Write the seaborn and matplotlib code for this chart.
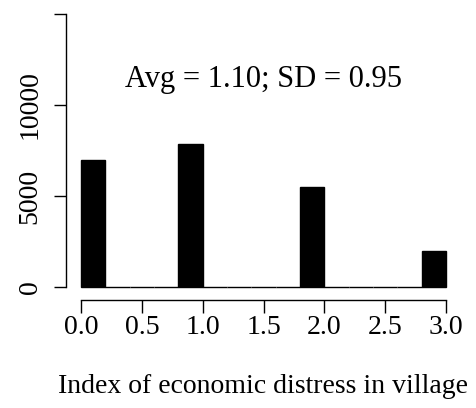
import numpy as np
import pandas as pd
import matplotlib
matplotlib.use("Agg")
import matplotlib.pyplot as plt
import seaborn as sns

# Data
index_values = [0, 1, 2, 3]
counts = [7000, 7870, 5490, 1980]
x_ticks = [0.0, 0.5, 1.0, 1.5, 2.0, 2.5, 3.0]
x_tick_labels = ["0.0", "0.5", "1.0", "1.5", "2.0", "2.5", "3.0"]
y_ticks = [0, 5000, 10000, 15000]
y_tick_labels = ["0", "5000", "10000", ""]
annotation = "Avg = 1.10; SD = 0.95"
x_label = "Index of economic distress in village"

sns.set_theme(style="white")
plt.rcParams["font.family"] = ["Liberation Serif", "DejaVu Serif"]
plt.rcParams["text.color"] = "black"
plt.rcParams["axes.labelcolor"] = "black"
plt.rcParams["xtick.color"] = "black"
plt.rcParams["ytick.color"] = "black"
FS = 20
FS_ANN = 22

edges = np.linspace(0, 3, 16)
binned = pd.cut(pd.Series(index_values, dtype=float), edges, right=True, include_lowest=True)
mids = [float(iv.mid) for iv in binned]
df = pd.DataFrame({"x": mids, "w": counts})

fig = plt.figure(figsize=(4.76, 4.08), dpi=100)
ax = fig.add_axes([66.4 / 476, 108 / 408, (460.6 - 66.4) / 476, (405 - 108) / 408])
sns.histplot(data=df, x="x", weights="w", bins=list(edges), color="black",
             edgecolor="black", linewidth=1.0, alpha=1, ax=ax)

ax.set_xlim(-0.12, 3.12)
ax.set_ylim(-700, 15600)
for s in ["top", "right"]:
    ax.spines[s].set_visible(False)
ax.spines["left"].set_bounds(0, 15000)
ax.spines["bottom"].set_bounds(0, 3)
for s in ["left", "bottom"]:
    ax.spines[s].set_color("black")
    ax.spines[s].set_linewidth(1.0)

ax.set_xticks(x_ticks)
ax.set_xticklabels(x_tick_labels, fontsize=FS, color="black")
ax.set_yticks(y_ticks)
ax.set_yticklabels(y_tick_labels, fontsize=FS, rotation=90, va="center", color="black")
ax.tick_params(axis="both", direction="out", length=9, width=1.0, colors="black",
               left=True, bottom=True)
ax.tick_params(axis="x", pad=2)
ax.tick_params(axis="y", pad=8)
ax.set_xlabel(x_label, fontsize=FS, labelpad=24.5, color="black")
ax.set_ylabel("")
ax.text(1.5, 11400, annotation, fontsize=FS_ANN, ha="center", va="center", color="black")

fig.savefig("out.png", dpi=100)
